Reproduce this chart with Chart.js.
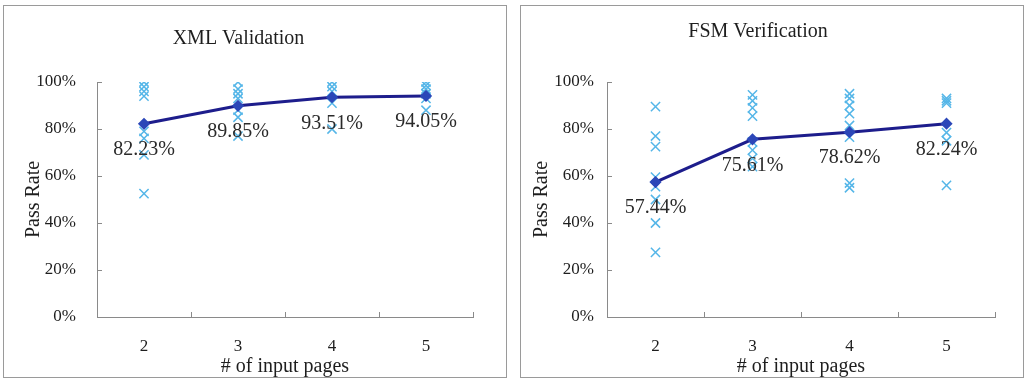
<!DOCTYPE html>
<html lang="en">
  <head>
    <meta charset="UTF-8" />
    <title>Pass Rate</title>
    <script src="https://cdn.jsdelivr.net/npm/chart.js"></script>
    <style>
      body { margin: 0; background: #fff; }
      .panel {
        position: absolute;
        border: 1px solid #9a9a9a;
        width: 502px;
        height: 371px;
      }
      #p1 { left: 3px; top: 5px; }
      #p2 { left: 520px; top: 5px; }
    </style>
  </head>
  <body>
    <div class="panel" id="p1"><canvas id="xmlChart" width="502" height="371"></canvas></div>
    <div class="panel" id="p2"><canvas id="fsmChart" width="502" height="371"></canvas></div>
    <script>
      // categories (# of input pages)
      const categories = ["2", "3", "4", "5"];
      const yTickValues = [0, 20, 40, 60, 80, 100];

      // XML Validation: average pass rate + individual runs
      const xmlMean = [82.23, 89.85, 93.51, 94.05];
      const xmlRuns = [
        [100, 98, 96, 94, 79, 76, 69, 52.5],
        [100, 97, 95, 93, 88, 85, 77],
        [100, 98, 96, 91, 80],
        [100, 98.5, 97, 95, 93, 88],
      ];

      // FSM Verification
      const fsmMean = [57.44, 75.61, 78.62, 82.24];
      const fsmRuns = [
        [89.5, 77, 72.5, 59.5, 55.5, 50, 40, 27.5],
        [94.5, 92, 89, 85.5, 74.5, 71, 67.5, 64],
        [95, 93, 90, 86.5, 81.5, 76.5, 57, 55],
        [93, 92, 91, 78.5, 75, 56],
      ];

      const serif = "'Liberation Serif', 'Times New Roman', serif";
      const textColor = "#1e1e1e";

      // percent labels under the mean points
      const valueLabels = {
        id: "valueLabels",
        afterDatasetsDraw(chart) {
          const meta = chart.getDatasetMeta(0);
          const ctx = chart.ctx;
          ctx.save();
          ctx.font = "20px " + serif;
          ctx.fillStyle = "#2a2a2a";
          ctx.textAlign = "center";
          ctx.textBaseline = "middle";
          meta.data.forEach((pt, i) => {
            const v = chart.data.datasets[0].data[i];
            ctx.fillText(v.toFixed(2) + "%", pt.x, pt.y + 26);
          });
          ctx.restore();
        },
      };

      // small tick marks pointing into the plot
      const innerTicks = {
        id: "innerTicks",
        afterDraw(chart) {
          const ctx = chart.ctx;
          const area = chart.chartArea;
          const xs = chart.scales.x;
          const ys = chart.scales.y;
          ctx.save();
          ctx.strokeStyle = "#8a8a8a";
          ctx.lineWidth = 1;
          ctx.beginPath();
          ys.ticks.forEach((t, i) => {
            const y = Math.round(ys.getPixelForTick(i)) + 0.5;
            ctx.moveTo(area.left, y);
            ctx.lineTo(area.left + 5, y);
          });
          for (let i = 0; i <= categories.length; i++) {
            const x = Math.round(xs.getPixelForValue(i - 0.5)) + 0.5;
            ctx.moveTo(x, area.bottom);
            ctx.lineTo(x, area.bottom - 5);
          }
          ctx.stroke();
          ctx.restore();
        },
      };

      function makeChart(id, title, mean, runs, opt) {
        const scatter = [];
        runs.forEach((list, i) => {
          list.forEach((v) => scatter.push({ x: categories[i], y: v }));
        });
        return new Chart(document.getElementById(id), {
          type: "line",
          data: {
            labels: categories,
            datasets: [
              {
                data: mean,
                order: 0,
                borderColor: "#1d1d8c",
                borderWidth: 3,
                pointStyle: "rectRot",
                pointRadius: 4,
                pointBackgroundColor: "#2c47b8",
                pointBorderColor: "#2c47b8",
                tension: 0,
              },
              {
                data: scatter,
                order: 1,
                showLine: false,
                pointStyle: "crossRot",
                pointRadius: 6.5,
                pointBorderWidth: 1.5,
                pointBorderColor: "#55b6e8",
                pointBackgroundColor: "#55b6e8",
              },
            ],
          },
          options: {
            responsive: false,
            animation: false,
            layout: { padding: { left: 0, right: opt.right, top: 0, bottom: 0 } },
            plugins: {
              legend: { display: false },
              tooltip: { enabled: false },
              title: {
                display: true,
                text: title,
                color: textColor,
                font: { family: serif, size: 20, weight: "normal" },
                padding: { top: opt.titleTop, bottom: opt.titleBottom },
              },
            },
            scales: {
              x: {
                offset: true,
                grid: { display: false },
                border: { display: true, color: "#8a8a8a", width: 1 },
                ticks: { color: textColor, padding: 11, font: { family: serif, size: 17 } },
                title: {
                  display: true,
                  text: "# of input pages",
                  color: textColor,
                  font: { family: serif, size: 20 },
                  padding: { top: 0, bottom: -2 },
                },
                afterFit: (s) => { s.height = 60; },
              },
              y: {
                min: 0,
                max: 100,
                afterBuildTicks: (s) => { s.ticks = yTickValues.map((v) => ({ value: v })); },
                grid: { display: false },
                border: { display: true, color: "#8a8a8a", width: 1 },
                ticks: {
                  color: textColor,
                  padding: opt.tickPad,
                  font: { family: serif, size: 17 },
                  callback: (v) => v + "%",
                },
                title: {
                  display: true,
                  text: "Pass Rate",
                  color: textColor,
                  font: { family: serif, size: 20 },
                  padding: { top: opt.yTitlePad, bottom: 0 },
                },
                afterFit: (s) => { s.width = opt.yWidth; },
              },
            },
          },
          plugins: [valueLabels, innerTicks],
        });
      }

      makeChart("xmlChart", "XML Validation", xmlMean, xmlRuns, {
        right: 33, titleTop: 21, titleBottom: 31, yWidth: 93, tickPad: 13, yTitlePad: 18,
      });
      makeChart("fsmChart", "FSM Verification", fsmMean, fsmRuns, {
        right: 28, titleTop: 14, titleBottom: 38, yWidth: 86, tickPad: 5, yTitlePad: 9,
      });
    </script>
  </body>
</html>
